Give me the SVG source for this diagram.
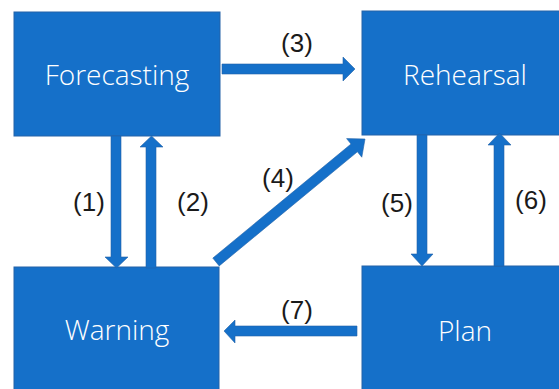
<svg xmlns="http://www.w3.org/2000/svg" width="559" height="389" viewBox="0 0 559 389">
<style>
.box{fill:#1570C9;stroke:#2463A8;stroke-width:1}
.bt{fill:#ffffff;font-family:"Open Sans","Liberation Sans",sans-serif;font-weight:300;font-size:28px;text-anchor:middle}
.lb{fill:#1a1a1a;font-family:"Liberation Sans",Arial,sans-serif;font-size:26px;text-anchor:middle}
.ar{fill:#1570C9;stroke:#2463A8;stroke-width:0.6}
</style>
<rect width="559" height="389" fill="#ffffff"/>
<g id="forecasting"><rect class="box" x="14" y="12" width="206" height="124"/><text class="bt" x="117" y="85">Forecasting</text></g>
<g id="rehearsal"><rect class="box" x="362" y="11" width="210" height="124"/><text class="bt" x="465" y="85">Rehearsal</text></g>
<g id="warning"><rect class="box" x="14" y="267" width="205" height="130"/><text class="bt" x="117" y="340">Warning</text></g>
<g id="plan"><rect class="box" x="362" y="266" width="210" height="130"/><text class="bt" x="465" y="341">Plan</text></g>
<g id="connectors">
<polygon class="ar" points="222,64 343,64 343,57 355,69 343,81 343,74 222,74"/>
<polygon class="ar" points="111,136 121,136 121,257 128,257 116.5,268 105,257 111,257"/>
<polygon class="ar" points="146,268 156,268 156,147 163,147 151.5,136 140,147 146,147"/>
<polygon class="ar" points="219.2,265.9 212.8,258.1 351,144 346.6,138.6 365,139 361.8,157.2 357.4,151.8"/>
<polygon class="ar" points="417,135 427,135 427,254 433,254 422,266 411,254 417,254"/>
<polygon class="ar" points="494,266 504,266 504,145 511,145 499.5,133 488,145 494,145"/>
<polygon class="ar" points="357,326 357,336 235,336 235,343 224,331 235,320 235,326"/>
<text class="lb" x="89" y="211">(1)</text>
<text class="lb" x="193" y="211">(2)</text>
<text class="lb" x="297" y="52">(3)</text>
<text class="lb" x="278" y="187">(4)</text>
<text class="lb" x="397" y="212">(5)</text>
<text class="lb" x="531" y="209">(6)</text>
<text class="lb" x="297" y="319">(7)</text>
</g>
</svg>
